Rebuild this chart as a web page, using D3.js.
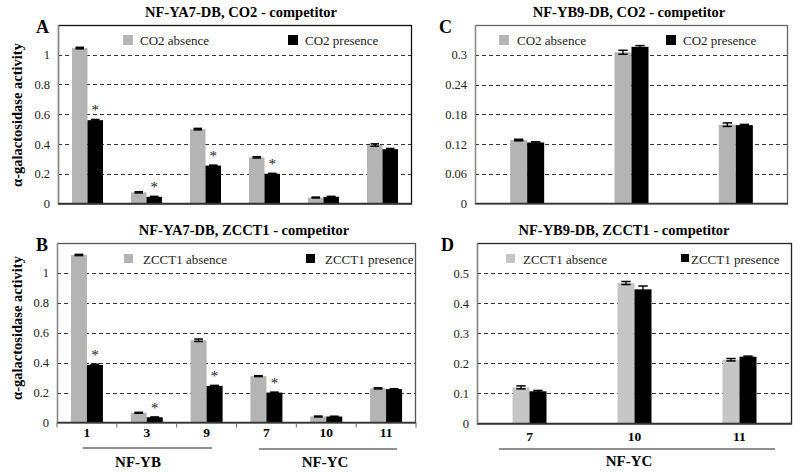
<!DOCTYPE html>
<html><head><meta charset="utf-8">
<script src="https://cdn.jsdelivr.net/npm/d3@7"></script>
<style>body{margin:0;background:#fff}svg{display:block}</style>
</head><body>
<svg id="chart" width="800" height="475"></svg>
<script>
// ---- data ----
const categoriesAB = ["1", "3", "9", "7", "10", "11"];
const categoriesCD = ["7", "10", "11"];

const A_absence     = [1.045, 0.075, 0.50, 0.31, 0.04, 0.393];
const A_absenceErr  = [0.005, 0.004, 0.005, 0.004, 0.003, 0.008];
const A_presence    = [0.56, 0.045, 0.255, 0.20, 0.045, 0.365];
const A_presenceErr = [0.005, 0.003, 0.003, 0.003, 0.003, 0.005];
const A_signif      = [true, true, true, true, false, false];

const B_absence     = [1.12, 0.065, 0.55, 0.31, 0.04, 0.228];
const B_absenceErr  = [0.004, 0.003, 0.008, 0.003, 0.003, 0.004];
const B_presence    = [0.385, 0.035, 0.245, 0.20, 0.04, 0.223];
const B_presenceErr = [0.005, 0.002, 0.003, 0.003, 0.002, 0.003];
const B_signif      = [true, true, true, true, false, false];

const C_absence     = [0.128, 0.305, 0.159];
const C_absenceErr  = [0.0015, 0.004, 0.0035];
const C_presence    = [0.123, 0.316, 0.158];
const C_presenceErr = [0.0015, 0.0025, 0.0015];

const D_absence     = [0.12, 0.467, 0.212];
const D_absenceErr  = [0.005, 0.005, 0.004];
const D_presence    = [0.107, 0.446, 0.222];
const D_presenceErr = [0.003, 0.011, 0.002];

const ticksAB = [0, 0.2, 0.4, 0.6, 0.8, 1];
const tickLabelsAB = ["0", "0.2", "0.4", "0.6", "0.8", "1"];
const ticksC = [0, 0.06, 0.12, 0.18, 0.24, 0.3];
const tickLabelsC = ["0", "0.06", "0.12", "0.18", "0.24", "0.3"];
const ticksD = [0, 0.1, 0.2, 0.3, 0.4, 0.5];
const tickLabelsD = ["0", "0.1", "0.2", "0.3", "0.4", "0.5"];

const seriesKeys = ["absence", "presence"];

// ---- drawing ----
const svg = d3.select("#chart");
const serif = "'Liberation Serif', 'Times New Roman', serif";

function panel(cfg) {
  const g = svg.append("g");
  const x = d3.scaleBand().domain(cfg.cats).range([cfg.left, cfg.right]).padding(0);
  const step = x.step();
  const po = step / (2 * cfg.bw) - 1;
  const x1 = d3.scaleBand().domain(seriesKeys).range([0, step]).paddingInner(0).paddingOuter(po);
  const y = d3.scaleLinear().domain([0, cfg.max]).range([cfg.bottom, cfg.top]);

  // grid
  g.selectAll(".grid").data(cfg.ticks.filter(t => t > 0)).join("line")
    .attr("x1", cfg.left).attr("x2", cfg.right)
    .attr("y1", d => Math.round(y(d)) + 0.5).attr("y2", d => Math.round(y(d)) + 0.5)
    .attr("stroke", "#333").attr("stroke-width", 1).attr("stroke-dasharray", "4,3");

  // y axis
  const yAxis = d3.axisLeft(y).tickValues(cfg.ticks)
    .tickFormat((d, i) => cfg.tickLabels[i]).tickSize(0).tickPadding(8);
  const ya = g.append("g").attr("transform", `translate(${cfg.left},0)`).call(yAxis);
  ya.select(".domain").remove();
  ya.selectAll("text").attr("font-family", serif).attr("font-size", 12.5).attr("fill", "#222");

  // bars
  const rows = cfg.cats.map((c, i) => ({
    cat: c,
    vals: [
      { key: "absence", v: cfg.abs[i], e: cfg.absErr[i] },
      { key: "presence", v: cfg.pres[i], e: cfg.presErr[i] }
    ],
    sig: cfg.sig ? cfg.sig[i] : false
  }));
  const grp = g.selectAll(".grp").data(rows).join("g")
    .attr("transform", d => `translate(${x(d.cat)},0)`);
  grp.selectAll("rect").data(d => d.vals).join("rect")
    .attr("x", d => x1(d.key)).attr("width", x1.bandwidth())
    .attr("y", d => y(d.v)).attr("height", d => y(0) - y(d.v))
    .attr("fill", d => d.key === "absence" ? cfg.gray : "#000");
  // error bars
  const cap = Math.min(10, x1.bandwidth() * 0.55);
  const eb = grp.selectAll(".eb").data(d => d.vals).join("g");
  eb.append("line")
    .attr("x1", d => x1(d.key) + x1.bandwidth() / 2).attr("x2", d => x1(d.key) + x1.bandwidth() / 2)
    .attr("y1", d => y(d.v + d.e)).attr("y2", d => y(d.v - d.e))
    .attr("stroke", "#000").attr("stroke-width", 1.3);
  eb.selectAll(".cap").data(d => [{ d, s: 1 }, { d, s: -1 }]).join("line")
    .attr("x1", o => x1(o.d.key) + x1.bandwidth() / 2 - cap / 2)
    .attr("x2", o => x1(o.d.key) + x1.bandwidth() / 2 + cap / 2)
    .attr("y1", o => y(o.d.v + o.s * o.d.e)).attr("y2", o => y(o.d.v + o.s * o.d.e))
    .attr("stroke", "#000").attr("stroke-width", 1.5);
  // asterisks
  grp.filter(d => d.sig).append("text")
    .attr("x", x1("presence") + x1.bandwidth() / 2)
    .attr("y", d => y(d.vals[1].v + d.vals[1].e) - 4)
    .attr("text-anchor", "middle").attr("font-family", serif).attr("font-size", 15)
    .attr("fill", "#222").text("*");

  // frame, zero axis, left axis
  g.append("rect").attr("x", cfg.left + 0.5).attr("y", cfg.top + 0.5)
    .attr("width", cfg.right - cfg.left - 1).attr("height", cfg.bottom - cfg.top)
    .attr("fill", "none").attr("stroke", cfg.frame).attr("stroke-width", 1.3);
  g.append("line").attr("x1", cfg.left).attr("x2", cfg.right)
    .attr("y1", y(0)).attr("y2", y(0)).attr("stroke", "#333").attr("stroke-width", 1.3);
  g.append("line").attr("x1", cfg.left + 0.5).attr("x2", cfg.left + 0.5)
    .attr("y1", cfg.top).attr("y2", cfg.bottom).attr("stroke", "#888").attr("stroke-width", 1.2);

  // x tick marks / labels
  if (cfg.xTicks) {
    const bounds = cfg.cats.map(c => x(c)).concat([cfg.right]);
    g.selectAll(".xt").data(bounds).join("line")
      .attr("x1", d => d).attr("x2", d => d)
      .attr("y1", y(0)).attr("y2", y(0) + 5).attr("stroke", "#666");
  }
  if (cfg.xLabels) {
    g.selectAll(".xl").data(cfg.cats).join("text")
      .attr("x", d => x(d) + step / 2).attr("y", cfg.xLabelY)
      .attr("text-anchor", "middle").attr("font-family", serif)
      .attr("font-weight", "bold").attr("font-size", 13.5).text(d => d);
  }

  // title
  g.append("text").attr("x", cfg.titleX).attr("y", cfg.top - 8)
    .attr("text-anchor", "middle").attr("font-family", serif).attr("font-weight", "bold")
    .attr("font-size", 14.5).text(cfg.title);
  // letter
  g.append("text").attr("x", cfg.letterX).attr("y", cfg.top + 8)
    .attr("font-family", serif).attr("font-weight", "bold").attr("font-size", 18).text(cfg.letter);

  // legend
  const lg = g.append("g");
  cfg.legend.forEach((L, i) => {
    lg.append("rect").attr("x", L.x).attr("y", cfg.top + cfg.legY - 10)
      .attr("width", L.s).attr("height", L.s).attr("fill", i === 0 ? cfg.gray : "#000");
    lg.append("text").attr("x", L.x + L.dx).attr("y", cfg.top + cfg.legY)
      .attr("font-family", serif).attr("font-size", 13).attr("fill", "#222").text(L.label);
  });

  // groupings
  (cfg.groups || []).forEach(G => {
    g.append("line").attr("x1", G.x1).attr("x2", G.x2).attr("y1", G.y).attr("y2", G.y)
      .attr("stroke", "#222").attr("stroke-width", 1.2);
    g.append("text").attr("x", G.tx).attr("y", G.ty).attr("text-anchor", "middle")
      .attr("font-family", serif).attr("font-weight", "bold").attr("font-size", 15).text(G.label);
  });

  // y label
  if (cfg.yLabel) {
    g.append("text").attr("transform", `translate(22,${cfg.yLabelY}) rotate(-90)`)
      .attr("text-anchor", "middle").attr("font-family", serif).attr("font-weight", "bold")
      .attr("font-size", 14.5).text("α-galactosidase activity");
  }
}

panel({
  cats: categoriesAB, abs: A_absence, absErr: A_absenceErr, pres: A_presence, presErr: A_presenceErr, sig: A_signif,
  left: 58, right: 412, top: 25, bottom: 203.5, max: 1.2, ticks: ticksAB, tickLabels: tickLabelsAB, bw: 15.5,
  gray: "#b4b4b4", frame: "#111", title: "NF-YA7-DB, CO2 - competitor", titleX: 241, letter: "A", letterX: 36,
  legY: 20, legend: [{ x: 123, dx: 17, s: 10, label: "CO2 absence" }, { x: 288, dx: 17, s: 10, label: "CO2 presence" }],
  yLabel: true, yLabelY: 115
});
panel({
  cats: categoriesAB, abs: B_absence, absErr: B_absenceErr, pres: B_presence, presErr: B_presenceErr, sig: B_signif,
  left: 57, right: 416, top: 243, bottom: 422.5, max: 1.2, ticks: ticksAB, tickLabels: tickLabelsAB, bw: 16,
  gray: "#b4b4b4", frame: "#555", title: "NF-YA7-DB, ZCCT1 - competitor", titleX: 244, letter: "B", letterX: 36,
  legY: 21, legend: [{ x: 124, dx: 19, s: 9, label: "ZCCT1 absence" }, { x: 306, dx: 19, s: 9, label: "ZCCT1 presence" }],
  yLabel: true, yLabelY: 328, xTicks: true, xLabels: true, xLabelY: 437,
  groups: [{ x1: 83, x2: 212, y: 448, label: "NF-YB", tx: 138, ty: 467 },
           { x1: 259, x2: 397, y: 449, label: "NF-YC", tx: 325, ty: 467 }]
});
panel({
  cats: categoriesCD, abs: C_absence, absErr: C_absenceErr, pres: C_presence, presErr: C_presenceErr,
  left: 475, right: 788, top: 25, bottom: 203.5, max: 0.36, ticks: ticksC, tickLabels: tickLabelsC, bw: 17,
  gray: "#b4b4b4", frame: "#666", title: "NF-YB9-DB, CO2 - competitor", titleX: 629, letter: "C", letterX: 439,
  legY: 20, legend: [{ x: 499, dx: 18, s: 10, label: "CO2 absence" }, { x: 666, dx: 17, s: 10, label: "CO2 presence" }]
});
panel({
  cats: categoriesCD, abs: D_absence, absErr: D_absenceErr, pres: D_presence, presErr: D_presenceErr,
  left: 477, right: 792, top: 243, bottom: 423.5, max: 0.6, ticks: ticksD, tickLabels: tickLabelsD, bw: 17,
  gray: "#c6c6c6", frame: "#222", title: "NF-YB9-DB, ZCCT1 - competitor", titleX: 624, letter: "D", letterX: 441,
  legY: 21, legend: [{ x: 506, dx: 17, s: 9, label: "ZCCT1 absence" }, { x: 681, dx: 10, s: 8, label: "ZCCT1 presence" }],
  xLabels: true, xLabelY: 441,
  groups: [{ x1: 499, x2: 775, y: 449, label: "NF-YC", tx: 629, ty: 466 }]
});
</script>
</body></html>
